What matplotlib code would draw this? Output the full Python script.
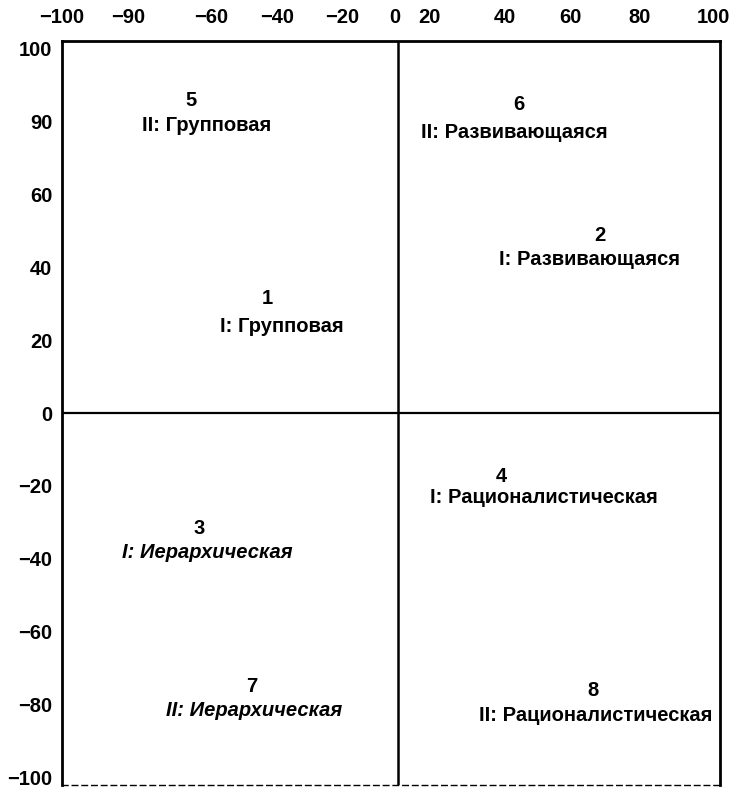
import matplotlib
matplotlib.use("Agg")
import matplotlib.pyplot as plt

plt.rcParams['font.family'] = ['Liberation Sans', 'DejaVu Sans']

# ---- data ----
numbers = ["1", "2", "3", "4", "5", "6", "7", "8"]
labels = ["I: Групповая", "I: Развивающаяся", "I: Иерархическая",
          "I: Рационалистическая", "II: Групповая", "II: Развивающаяся",
          "II: Иерархическая", "II: Рационалистическая"]
num_x = [-40.4, 62.6, -61.7, 32.2, -64.1, 37.7, -45.3, 60.5]
num_y = [31.5, 48.8, -31.6, -17.3, 85.8, 84.5, -75.0, -76.0]
lab_x = [-36.2, 59.5, -59.3, 45.3, -59.3, 36.0, -44.7, 61.4]
lab_y = [23.6, 42.0, -38.2, -23.3, 78.7, 77.0, -81.6, -83.0]
italic = [False, False, True, False, False, False, True, False]

xtick_labels = ["-100", "-90", "-60", "-40", "-20", "0", "20", "40", "60", "80", "100"]
ytick_labels = ["100", "90", "60", "40", "20", "0", "-20", "-40", "-60", "-80", "-100"]

# ---- layout ----
xtick_pos = [-104.3, -83.8, -58.1, -37.4, -17.3, -0.9, 9.7, 33.1, 53.5, 75.1, 97.9]
ytick_pos = [100, 80, 60, 40, 20, 0, -20, -40, -60, -80, -100]

fig = plt.figure(figsize=(7.32, 7.93), dpi=100)
ax = fig.add_axes([62 / 732, 1 - 785 / 793, (720 - 62) / 732, (785 - 41) / 793])
ax.set_xlim(-100, 100)
ax.set_ylim(-102, 102)

for s in ["left", "right", "top"]:
    ax.spines[s].set_linewidth(2.0)
    ax.spines[s].set_color("black")
ax.spines["bottom"].set_linewidth(1.0)
ax.spines["bottom"].set_linestyle((0, (4, 3)))

ax.axvline(0, color="black", lw=1.8)
ax.axhline(0, color="black", lw=1.6)

ax.xaxis.tick_top()
ax.set_xticks(xtick_pos)
ax.set_xticklabels([t.replace("-", "\u2212") for t in xtick_labels],
                   fontsize=14.5, fontweight="bold")
ax.set_yticks(ytick_pos)
ax.set_yticklabels([t.replace("-", "\u2212") for t in ytick_labels],
                   fontsize=14.5, fontweight="bold")
ax.tick_params(axis="both", length=0)
ax.tick_params(axis="x", pad=10)
ax.tick_params(axis="y", pad=7)

for n, lab, nx, ny, lx, ly, it in zip(numbers, labels, num_x, num_y,
                                       lab_x, lab_y, italic):
    ax.text(nx, ny, n, ha="center", va="center", fontsize=14.5, fontweight="bold")
    ax.text(lx, ly, lab, ha="center", va="center", fontsize=14.5,
            fontweight="bold", style="italic" if it else "normal")

fig.savefig("out.png", dpi=100)
